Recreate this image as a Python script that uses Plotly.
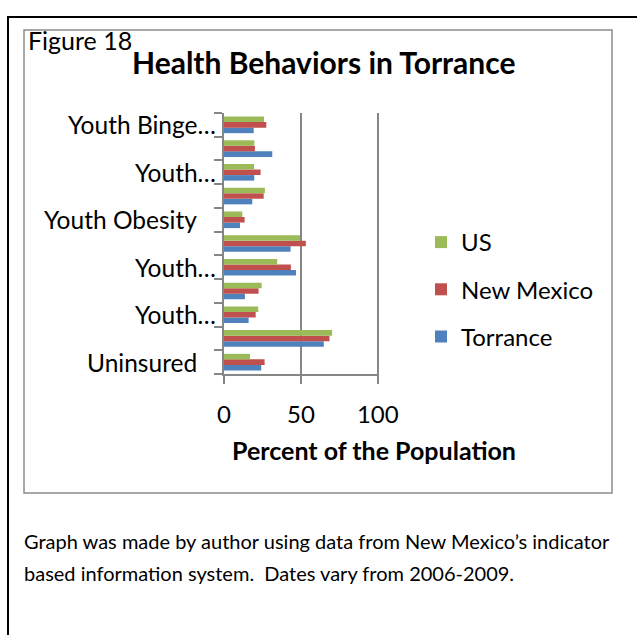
import plotly.graph_objects as go

# Row labels, bottom to top (Excel skipped every other label for space)
labels = ["Uninsured", "", "Youth…", "", "Youth…", "", "Youth Obesity",
          "", "Youth…", "", "Youth Binge…"]

# Percent of the population, bottom row first
torrance   = [24.2, 64.9, 16.0, 13.6, 46.8, 43.3, 10.4, 18.4, 19.7, 31.4, 19.3]
new_mexico = [26.4, 68.6, 20.6, 22.5, 43.5, 53.2, 13.4, 25.8, 23.8, 20.1, 27.5]
us         = [16.9, 70.3, 22.3, 24.5, 34.6, 49.4, 11.9, 26.6, 19.5, 19.7, 26.0]

x_ticks = [0, 50, 100]
x_max = 100.8

FONT = "Lato"
GRAY = "#868686"
W, H = 637, 635
# plot area edges in pixels
L, R, T, B = 224, 379, 113, 374


def px_x(px):
    return (px - L) / (R - L)


def px_y(py):
    return (B - py) / (B - T)


rows = list(range(len(labels)))

fig = go.Figure()
series = [
    ("Torrance", torrance, "#4F81BD", 3),
    ("New Mexico", new_mexico, "#C0504D", 2),
    ("US", us, "#9BBB59", 1),
]
for name, vals, color, rank in series:
    fig.add_trace(go.Bar(
        x=vals, y=rows, orientation="h", name=name, legendgroup=name,
        legendrank=rank,
        marker=dict(color=color, line=dict(width=0)),
        hoverinfo="x+name",
    ))

annotations = []
# category labels
for i, lab in enumerate(labels):
    if not lab:
        continue
    right = 218 if lab.endswith("…") else 199
    annotations.append(dict(
        x=px_x(right), xref="paper", y=i, yref="y", text=lab,
        xanchor="right", yanchor="middle", showarrow=False,
        font=dict(family=FONT, size=24.5, color="#000000"),
    ))

# axis title
annotations.append(dict(
    x=px_x(374), xref="paper", y=px_y(450), yref="paper",
    text="<b>Percent of the Population</b>", showarrow=False,
    xanchor="center", yanchor="middle",
    font=dict(family=FONT, size=25, color="#000000"),
))
# chart title and figure number
annotations.append(dict(
    x=px_x(323), xref="paper", y=px_y(62), yref="paper",
    text="<b>Health Behaviors in Torrance</b>", showarrow=False,
    xanchor="center", yanchor="middle",
    font=dict(family=FONT, size=30, color="#000000"),
))
annotations.append(dict(
    x=px_x(26), xref="paper", y=px_y(40), yref="paper",
    text="Figure 18", showarrow=False,
    xanchor="left", yanchor="middle",
    font=dict(family=FONT, size=25, color="#000000"),
))
# source note
for text, cy in [
    ("Graph was made by author using data from New Mexico’s indicator", 541),
    ("based information system.  Dates vary from 2006-2009.", 573),
]:
    annotations.append(dict(
        x=px_x(22), xref="paper", y=px_y(cy), yref="paper",
        text=text, showarrow=False, xanchor="left", yanchor="middle",
        font=dict(family=FONT, size=20, color="#000000"),
    ))

shapes = [
    # outer page frame (top and left edges)
    dict(type="line", xref="paper", yref="paper",
         x0=px_x(8), x1=px_x(W + 5), y0=px_y(17), y1=px_y(17),
         line=dict(color="#000000", width=2)),
    dict(type="line", xref="paper", yref="paper",
         x0=px_x(8), x1=px_x(8), y0=px_y(16), y1=px_y(H + 5),
         line=dict(color="#000000", width=2)),
    # chart border
    dict(type="rect", xref="paper", yref="paper",
         x0=px_x(24), x1=px_x(612), y0=px_y(30), y1=px_y(493),
         line=dict(color="#8C8C8C", width=1.5)),
]

fig.update_layout(
    width=W, height=H,
    margin=dict(l=L, r=W - R, t=T, b=H - B, pad=0),
    paper_bgcolor="#FFFFFF", plot_bgcolor="#FFFFFF",
    barmode="group", bargap=0.3, bargroupgap=0,
    font=dict(family=FONT, size=24, color="#000000"),
    showlegend=True,
    legend=dict(
        x=px_x(421), xref="paper", y=px_y(220), yref="paper",
        xanchor="left", yanchor="top",
        traceorder="grouped", tracegroupgap=13,
        font=dict(family=FONT, size=24, color="#000000"),
        bgcolor="rgba(0,0,0,0)", itemclick=False,
    ),
    xaxis=dict(
        range=[0, x_max], tickvals=x_ticks, ticktext=[str(v) for v in x_ticks],
        showgrid=True, gridcolor=GRAY, gridwidth=2,
        showline=True, linecolor=GRAY, linewidth=2,
        ticks="outside", ticklen=8, tickwidth=2, tickcolor=GRAY,
        zeroline=False, ticklabelstandoff=10,
        tickfont=dict(family=FONT, size=24, color="#000000"),
        fixedrange=True,
    ),
    yaxis=dict(
        range=[-0.5, len(labels) - 0.5],
        tickvals=[i - 0.5 for i in range(len(labels) + 1)],
        showticklabels=False, showgrid=False, zeroline=False,
        showline=True, linecolor=GRAY, linewidth=2,
        ticks="outside", ticklen=8, tickwidth=2, tickcolor=GRAY,
        fixedrange=True,
    ),
    annotations=annotations,
    shapes=shapes,
)

fig.write_html("out.html")
